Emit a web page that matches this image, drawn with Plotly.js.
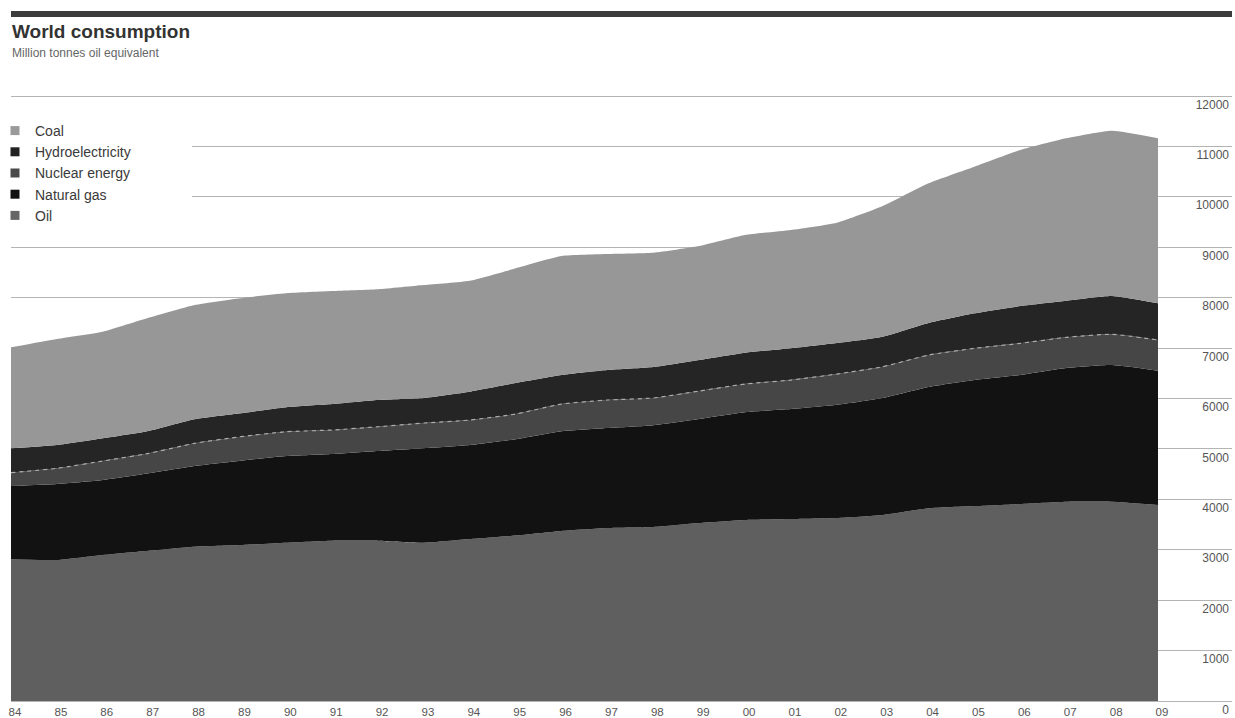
<!DOCTYPE html>
<html>
<head>
<meta charset="utf-8">
<script src="https://cdn.plot.ly/plotly-3.0.1.min.js"></script>
<style>
  html, body { margin: 0; padding: 0; background: #ffffff; }
  #chart { width: 1235px; height: 718px; }
</style>
</head>
<body>
<div id="chart"></div>
<script>
// ---- Data (Million tonnes oil equivalent) ----
const years = [1984,1985,1986,1987,1988,1989,1990,1991,1992,1993,1994,1995,1996,1997,1998,1999,2000,2001,2002,2003,2004,2005,2006,2007,2008,2009];
const yearLabels = ['84','85','86','87','88','89','90','91','92','93','94','95','96','97','98','99','00','01','02','03','04','05','06','07','08','09'];
const oil = [2810,2797,2896,2981,3061,3094,3140,3180,3180,3140,3213,3282,3372,3431,3451,3530,3590,3610,3630,3689,3822,3867,3907,3953,3953,3887];
const naturalGas = [1454,1507,1487,1535,1600,1672,1719,1720,1780,1874,1865,1910,1978,1983,2019,2063,2137,2181,2245,2321,2406,2499,2559,2651,2711,2663];
const nuclear = [264,311,377,396,450,476,482,475,480,500,495,500,540,556,540,555,560,575,610,620,634,629,628,609,609,610];
const hydro = [484,462,450,443,476,464,484,515,530,496,561,615,576,595,614,615,621,629,615,595,635,694,740,726,760,728];
const coal = [2003,2103,2114,2245,2267,2284,2261,2240,2196,2240,2202,2275,2360,2301,2267,2261,2334,2346,2386,2592,2771,2908,3094,3221,3278,3272];

const seriesNames = ['Oil','Natural gas','Nuclear energy','Hydroelectricity','Coal'];
const seriesValues = [oil, naturalGas, nuclear, hydro, coal];
const fillColors = ['#5f5f5f','#121212','#464646','#252525','#979797'];
const legendColors = ['#666666','#111111','#4a4a4a','#222222','#9a9a9a'];

const FONT = '"Liberation Sans", Arial, Helvetica, sans-serif';

const traces = [];
seriesNames.forEach((name, i) => {
  const isNuclear = name === 'Nuclear energy';
  traces.push({
    type: 'scatter',
    mode: 'lines',
    name: name,
    x: years,
    y: seriesValues[i],
    stackgroup: 'energy',
    fillcolor: fillColors[i],
    line: isNuclear
      ? { color: '#adadad', width: 1.2, dash: '4px,4px', shape: 'spline', smoothing: 0.5 }
      : { color: fillColors[i], width: 0, shape: 'spline', smoothing: 0.5 },
    showlegend: false,
    hoverinfo: 'skip'
  });
});
// legend entries (square swatches)
seriesNames.forEach((name, i) => {
  traces.push({
    type: 'scatter',
    mode: 'markers',
    name: name,
    x: [null],
    y: [null],
    marker: { symbol: 'square', size: 9, color: legendColors[i] },
    showlegend: true,
    hoverinfo: 'skip'
  });
});

const layout = {
  width: 1235,
  height: 718,
  paper_bgcolor: '#ffffff',
  plot_bgcolor: '#ffffff',
  margin: { l: 11, r: 3, t: 95, b: 17, pad: 0, autoexpand: false },
  font: { family: FONT, color: '#444444' },
  title: {
    text: '<b>World consumption</b>',
    font: { family: FONT, size: 19, color: '#333333' },
    xref: 'container', x: 12 / 1235, xanchor: 'left',
    yref: 'container', y: 1 - 25 / 718, yanchor: 'top',
    pad: { t: 0, b: 0, l: 0, r: 0 }
  },
  annotations: [
    { text: 'Million tonnes oil equivalent', showarrow: false,
      xref: 'paper', yref: 'paper', x: -1 / 1221, xanchor: 'left',
      y: 1 + (95 - 53) / 606, yanchor: 'middle',
      font: { family: FONT, size: 12, color: '#666666' } }
  ],
  showlegend: true,
  legend: {
    traceorder: 'reversed',
    x: -16 / 1221, xanchor: 'left',
    y: 0.967, yanchor: 'top',
    bgcolor: 'rgba(0,0,0,0)',
    borderwidth: 0,
    font: { family: FONT, size: 14, color: '#3a3a3a' },
    itemclick: false, itemdoubleclick: false
  },
  xaxis: {
    range: [1984, 2010.613],
    tickmode: 'array',
    tickvals: years,
    ticktext: yearLabels,
    tickfont: { family: FONT, size: 11.5, color: '#555555' },
    ticklabelshift: 4,
    ticklabelstandoff: 2,
    showgrid: false,
    zeroline: false,
    showline: false,
    ticks: '',
    fixedrange: true
  },
  yaxis: {
    side: 'right',
    range: [0, 12020],
    tick0: 0,
    dtick: 1000,
    tickformat: 'd',
    showgrid: true,
    gridcolor: '#b4b4b4',
    gridwidth: 1,
    zeroline: true,
    zerolinecolor: '#b4b4b4',
    zerolinewidth: 1,
    showline: false,
    ticks: '',
    ticklabelposition: 'inside bottom',
    ticklabeloverflow: 'allow',
    tickfont: { family: FONT, size: 12, color: '#555555' },
    fixedrange: true
  },
  shapes: [
    // dark rule above the title
    { type: 'rect', xref: 'paper', yref: 'paper', x0: 0, x1: 1,
      y0: 1 + 78 / 606, y1: 1 + 84 / 606,
      fillcolor: '#3c3c3c', line: { width: 0 }, layer: 'above' },
    // white panel behind the legend
    { type: 'rect', xref: 'paper', yref: 'paper', x0: 0, x1: 181 / 1221,
      y0: 1 - 131 / 606, y1: 1 - 23 / 606,
      fillcolor: '#ffffff', line: { width: 0 }, layer: 'above' }
  ],
  hovermode: false
};

Plotly.newPlot('chart', traces, layout, { displayModeBar: false, staticPlot: true });
</script>
</body>
</html>
